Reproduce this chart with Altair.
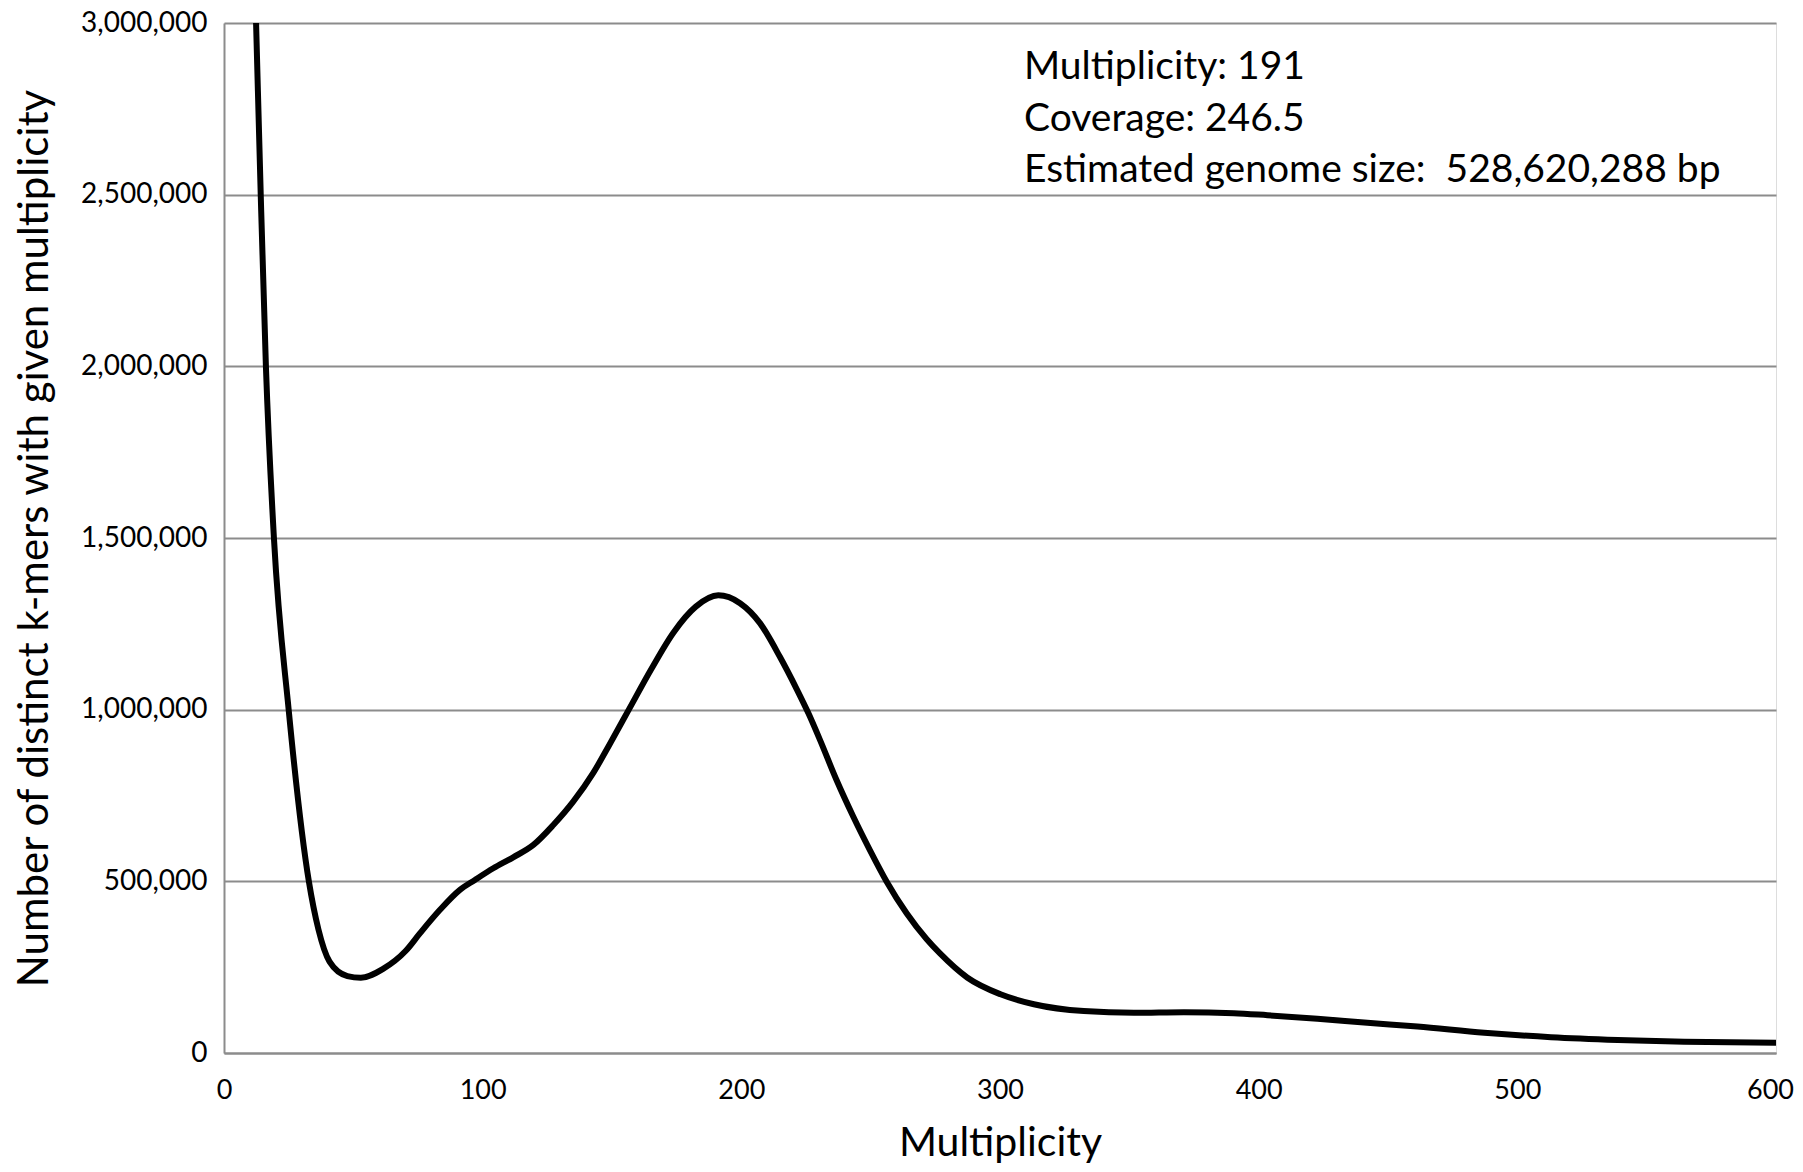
import altair as alt
import pandas as pd

# Multiplicity (x) and number of distinct k-mers (y)
multiplicity = [10, 12.4, 14.2, 16.2, 19.3, 25.0, 32.8, 36.5, 40.8, 47.7, 52.9,
                61.5, 70.2, 75.8, 83.5, 91.2, 97.0, 104.1, 111.8, 119.6, 127.3,
                135.0, 142.7, 149.0, 156.5, 165.1, 173.8, 182.4, 191.1, 199.5,
                207.2, 214.9, 221.4, 225.9, 230.4, 236.8, 243.3, 249.7, 256.2,
                263.9, 271.6, 276.8, 287.3, 300.2, 313.1, 332.4, 351.8, 371.1,
                390.4, 403.4, 422.7, 442.0, 461.4, 487.2, 513.0, 538.8, 564.5,
                600.0]
kmers = [3650000, 3000000, 2500000, 2000000, 1500000, 1000000, 500000, 360000,
         266000, 224000, 219000, 245000, 297000, 349000, 417000, 475000, 504000,
         538000, 570000, 606000, 664000, 732000, 815000, 898000, 1000000,
         1117000, 1225000, 1300000, 1333000, 1310000, 1252000, 1154000,
         1060000, 990000, 912000, 795000, 688000, 591000, 499000, 407000,
         332000, 290000, 220000, 171000, 142000, 122000, 117000, 119000,
         116000, 110000, 100000, 88000, 77000, 59000, 46000, 38000, 33000,
         30000]

x_ticks = [0, 100, 200, 300, 400, 500, 600]
y_ticks = [0, 500000, 1000000, 1500000, 2000000, 2500000, 3000000]

note_lines = ["Multiplicity: 191", "Coverage: 246.5",
              "Estimated genome size:\u00a0 528,620,288 bp"]

FONT = "Lato"
GRID = "#8c8c8c"

df = pd.DataFrame({"m": multiplicity, "k": kmers})
notes = pd.DataFrame({"t": note_lines, "i": list(range(len(note_lines)))})

line = alt.Chart(df).mark_line(
    color="black", strokeWidth=6, interpolate="monotone", clip=True
).encode(
    x=alt.X("m:Q", scale=alt.Scale(domain=[0, 600], nice=False),
            axis=alt.Axis(values=x_ticks, title="Multiplicity", grid=False,
                          ticks=False, tickSize=0, labelPadding=24,
                          labelFlush=False,
                          labelOffset={"condition": {"test": "datum.value == 600",
                                                     "value": -6},
                                       "value": 0},
                          labelFontSize=27, titleFontSize=41, titlePadding=20,
                          titleFontWeight="normal", labelFont=FONT, titleFont=FONT,
                          labelColor="black", titleColor="black",
                          domainColor=GRID, domainWidth=2)),
    y=alt.Y("k:Q", scale=alt.Scale(domain=[0, 3000000], nice=False),
            axis=alt.Axis(values=y_ticks, format=",.0f", grid=True, gridColor=GRID,
                          gridWidth=2, ticks=False, tickSize=0, labelPadding=17,
                          labelFlush=False,
                          title="Number of distinct k-mers with given multiplicity",
                          labelFontSize=28, titleFontSize=42, titlePadding=24,
                          titleFontWeight="normal", labelFont=FONT, titleFont=FONT,
                          labelColor="black", titleColor="black",
                          domainColor=GRID, domainWidth=2)),
)

text = alt.Chart(notes).mark_text(
    align="left", baseline="middle", fontSize=39, font=FONT, color="black"
).encode(
    x=alt.value(800),
    y=alt.Y("i:Q", scale=alt.Scale(domain=[0, 2], range=[44, 147]), axis=None),
    text="t:N",
)

chart = alt.layer(line, text).resolve_scale(y="independent").properties(
    width=1552, height=1030,
    autosize=alt.AutoSizeParams(type="none"),
    padding={"left": 216, "top": 15, "right": 18, "bottom": 110},
).configure_view(stroke=None).configure(background="white")

chart.save("out.html", embed_options={"renderer": "svg", "actions": False})
